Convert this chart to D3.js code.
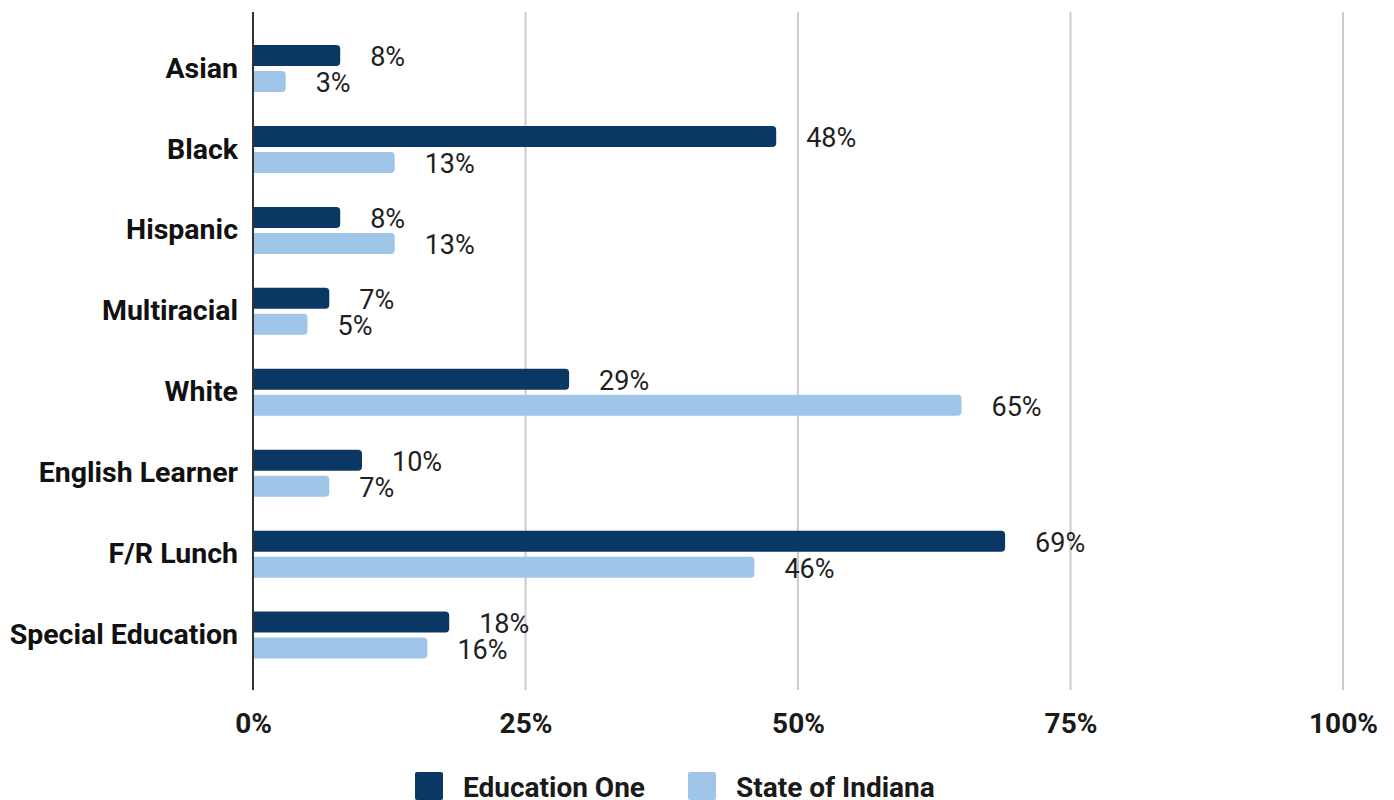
<!DOCTYPE html>
<html>
<head>
<meta charset="utf-8">
<script src="https://cdn.jsdelivr.net/npm/d3@7"></script>
<style>
  html, body { margin: 0; padding: 0; background: #fff; }
  svg { display: block; }
  text { font-family: Roboto, "Noto Sans", sans-serif; }
</style>
</head>
<body>
<svg id="chart" width="1394" height="800"></svg>
<script>
const categories = ["Asian", "Black", "Hispanic", "Multiracial", "White", "English Learner", "F/R Lunch", "Special Education"];
const seriesNames = ["Education One", "State of Indiana"];
const educationOne = [8, 48, 8, 7, 29, 10, 69, 18];
const stateOfIndiana = [3, 13, 13, 5, 65, 7, 46, 16];
const tickValues = [0, 25, 50, 75, 100];
const colors = ["#0b3764", "#9fc5e8"];

const svg = d3.select("#chart");
const x = d3.scaleLinear().domain([0, 100]).range([253, 1343]);
const y0 = d3.scaleBand().domain(categories).range([28, 675.5]).padding(0);
const y1 = d3.scaleBand().domain(seriesNames).range([17, 64]).paddingInner(5 / 26).paddingOuter(0);
const color = d3.scaleOrdinal().domain(seriesNames).range(colors);

const rows = categories.map((c, i) => ({
  cat: c,
  vals: [
    { s: seriesNames[0], v: educationOne[i] },
    { s: seriesNames[1], v: stateOfIndiana[i] }
  ]
}));

// gridlines
svg.append("g").selectAll("line")
  .data(tickValues.filter(t => t > 0))
  .join("line")
  .attr("x1", d => x(d)).attr("x2", d => x(d))
  .attr("y1", 12).attr("y2", 690)
  .attr("stroke", "#cccccc").attr("stroke-width", 2);

// x tick labels
const xAxis = d3.axisBottom(x).tickValues(tickValues).tickFormat(d => d + "%").tickSize(0).tickPadding(0);
const gx = svg.append("g").attr("transform", "translate(0,723)").call(xAxis);
gx.select(".domain").remove();
gx.selectAll("text")
  .attr("y", 0).attr("dy", "0.35em")
  .attr("font-family", "Roboto, sans-serif")
  .attr("font-size", 28).attr("font-weight", "bold").attr("fill", "#1a1a1a");

// bars
const radius = 4;
function barPath(x0, x1, yTop, h) {
  const r = Math.min(radius, (x1 - x0) / 2, h / 2);
  return `M${x0},${yTop}H${x1 - r}A${r},${r} 0 0 1 ${x1},${yTop + r}V${yTop + h - r}A${r},${r} 0 0 1 ${x1 - r},${yTop + h}H${x0}Z`;
}

const groups = svg.append("g").selectAll("g")
  .data(rows).join("g")
  .attr("transform", d => `translate(0,${y0(d.cat)})`);

groups.selectAll("path")
  .data(d => d.vals).join("path")
  .attr("d", d => barPath(x(0), x(d.v), y1(d.s), y1.bandwidth()))
  .attr("fill", d => color(d.s));

groups.selectAll("text.val")
  .data(d => d.vals).join("text")
  .attr("class", "val")
  .attr("x", d => x(d.v) + 30)
  .attr("y", d => y1(d.s) + y1.bandwidth())
  .attr("font-size", 27)
  .attr("fill", "#1f1f1f")
  .text(d => d.v + "%");

// category axis
const yAxis = d3.axisLeft(y0).tickSize(0).tickPadding(15);
const gy = svg.append("g").attr("transform", `translate(${x(0)},0)`).call(yAxis);
gy.select(".domain").remove();
gy.selectAll("text")
  .attr("font-family", "Roboto, sans-serif")
  .attr("font-size", 28.5).attr("font-weight", "bold").attr("fill", "#111");

// vertical axis line
svg.append("line")
  .attr("x1", x(0)).attr("x2", x(0))
  .attr("y1", 12).attr("y2", 690)
  .attr("stroke", "#333").attr("stroke-width", 2);

// legend
const legendX = [415, 688];
const legend = svg.append("g").selectAll("g")
  .data(seriesNames).join("g")
  .attr("transform", (d, i) => `translate(${legendX[i]},772)`);
legend.append("rect").attr("width", 28).attr("height", 28).attr("rx", 2).attr("fill", d => color(d));
legend.append("text")
  .attr("x", 48).attr("y", 25)
  .attr("font-size", 28).attr("font-weight", "bold").attr("fill", "#1a1a1a")
  .text(d => d);
</script>
</body>
</html>
